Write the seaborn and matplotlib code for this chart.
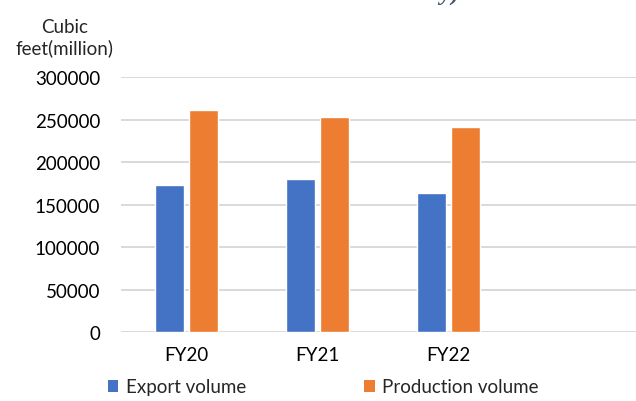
import matplotlib
matplotlib.use("Agg")
import matplotlib.pyplot as plt
import seaborn as sns
import pandas as pd
from matplotlib.patches import Patch

# Chart data
years = ["FY20", "FY21", "FY22"]
export_volume = [173000, 180000, 164000]
production_volume = [262000, 253000, 242000]
series_names = ["Export volume", "Production volume"]
y_ticks = [0, 50000, 100000, 150000, 200000, 250000, 300000]

colors = ["#4472C4", "#ED7D31"]

df = pd.DataFrame({
    "year": years * 2,
    "series": [series_names[0]] * len(years) + [series_names[1]] * len(years),
    "value": export_volume + production_volume,
})

sns.set_theme(style="white")
plt.rcParams["font.family"] = ["Lato", "DejaVu Sans"]

fig = plt.figure(figsize=(6.36, 4.02), dpi=100)
ax = fig.add_axes([121 / 636, 1 - 333.3 / 402, 515 / 636, (333.3 - 78.3) / 402])

sns.barplot(data=df, x="year", y="value", hue="series", palette=colors,
            width=0.51, gap=0.12, ax=ax, legend=False, saturation=1)

ax.set_ylim(0, 300000)
ax.set_xlim(-0.5, -0.5 + 515 / 131)
ax.set_yticks(y_ticks)
ax.set_yticklabels([str(v) for v in y_ticks])
ax.yaxis.grid(True, color="#D9D9D9", linewidth=1.4)
ax.set_axisbelow(True)
for s in ax.spines.values():
    s.set_visible(False)
ax.tick_params(axis="both", length=0, labelsize=13.5, colors="#000000")
ax.tick_params(axis="y", pad=15)
ax.tick_params(axis="x", pad=10)
ax.set_xlabel("")
ax.set_ylabel("")

# Axis unit label above the tick labels
fig.text(65 / 636, 1 - 38 / 402, "Cubic\nfeet(million)", ha="center", va="center",
         fontsize=13.5, linespacing=1.25)

# Title (only the bottom edge of its last line falls inside the canvas)
fig.text(346 / 636, 1 - 5 / 402, "October and January)", ha="center", va="bottom",
         fontsize=18, fontweight="bold", fontstyle="italic",
         family=["Liberation Serif", "DejaVu Serif"], color="#44546A")

handles = [Patch(facecolor=c, edgecolor="none") for c in colors]
fig.legend(handles, series_names, loc="center left",
           bbox_to_anchor=(108 / 636, 1 - 388 / 402), ncol=2, frameon=False,
           fontsize=13.5, handlelength=0.55, handleheight=0.55, handletextpad=0.4,
           columnspacing=6.3, borderaxespad=0, borderpad=0)

fig.savefig("out.png", dpi=100)
